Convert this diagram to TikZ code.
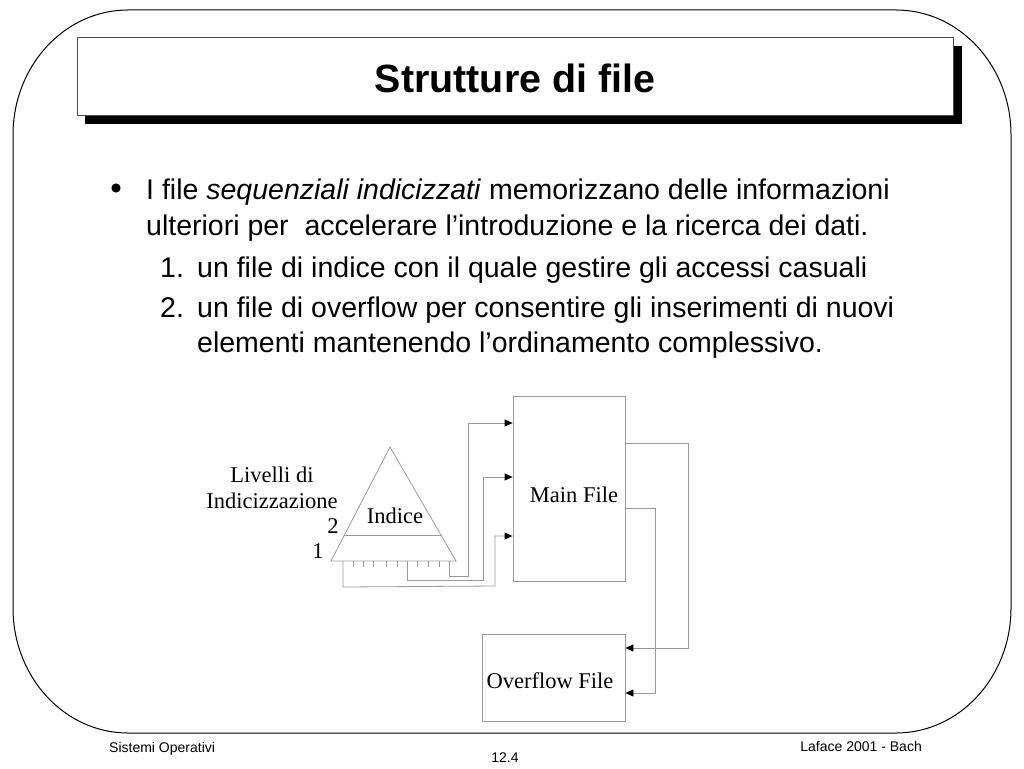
\documentclass[tikz,border=0pt]{standalone}
\usepackage{fontspec}
\setmainfont{Liberation Sans}
\newfontfamily\tnr{Liberation Serif}
\usetikzlibrary{arrows.meta,calc}
\tikzset{
  glink/.style={draw=black!40, line width=0.8pt},
  garrow/.style={glink, -{Triangle[length=8pt,width=7pt,color=black]}},
  gbox/.style={draw=black!40, line width=0.8pt, fill=white, inner sep=0pt},
  body/.style={anchor=base west, inner sep=0pt, font=\fontsize{28.5}{34}\selectfont},
  diag/.style={inner sep=0pt, font=\tnr\fontsize{22.5}{27}\selectfont},
  foot/.style={inner sep=0pt, font=\fontsize{14}{17}\selectfont},
}
\begin{document}
\begin{tikzpicture}[x=1pt,y=-1pt]
\useasboundingbox (0,0) rectangle (1024,768);
% frame
\draw[line width=1pt] (13,135) arc[start angle=180,end angle=270,x radius=115,y radius=125]
  -- (896,10) arc[start angle=270,end angle=360,x radius=115,y radius=125]
  -- (1011,608) arc[start angle=0,end angle=90,x radius=115,y radius=125]
  -- (128,733) arc[start angle=90,end angle=180,x radius=115,y radius=125] -- cycle;
% title box
\fill[black] (85,46) rectangle (962,124);
\draw[fill=white, line width=1pt, draw=black!70] (77,38) rectangle (953,115);
\node[inner sep=0pt, anchor=base, font=\bfseries\fontsize{39.4}{44}\selectfont] (title) at (515,92) {Strutture di file};
% bullet text
\fill (116,188) circle (4.6);
\node[body] (l1) at (146,199) {I file \textit{sequenziali indicizzati} memorizzano delle informazioni};
\node[body] (l2) at (146,235) {ulteriori per\ \ accelerare l’introduzione e la ricerca dei dati.};
\node[body] (n1) at (160,277) {1.};
\node[body] (l3) at (197,277) {un file di indice con il quale gestire gli accessi casuali};
\node[body] (n2) at (160,317) {2.};
\node[body] (l4) at (197,317) {un file di overflow per consentire gli inserimenti di nuovi};
\node[body] (l5) at (197,352) {elementi mantenendo l’ordinamento complessivo.};
% main file and overflow file
\node[gbox, minimum width=112pt, minimum height=185pt] (main) at (569,488.5) {};
\node[diag, anchor=base] (mainlbl) at (574,502) {Main File};
\node[gbox, minimum width=143pt, minimum height=87pt] (ovf) at (553.5,677.5) {};
\node[diag, anchor=base] (ovflbl) at (550,688) {Overflow File};
% triangle (index)
\coordinate (apex) at (390,447);
\coordinate (bl) at (331,561);
\coordinate (br) at (456,561);
\draw[glink] (bl) -- (apex) -- (br) -- cycle;
\draw[glink] ($(bl)!0.228!(apex)$) -- ($(br)!0.228!(apex)$);
\foreach \x in {353,363,373,386,397,417,428,439} \draw[glink] (\x,561) -- (\x,567);
\node[diag, anchor=base] (indice) at (395,523) {Indice};
\node[diag, anchor=base] (liv1) at (272,482) {Livelli di};
\node[diag, anchor=base] (liv2) at (272,508) {Indicizzazione};
\node[diag, anchor=base] (lev2) at (333,533) {2};
\node[diag, anchor=base] (lev1) at (318,558) {1};
% connectors index -> main
\coordinate (s1) at (449,561);
\coordinate (s2) at (407,561);
\coordinate (s3) at (343,561);
\draw[garrow] (s1) -- (449,576) -- (468,576) -- (468,423) -- (main.west |- 0,423);
\draw[garrow] (s2) -- (407,580) -- (483,580) -- (483,477) -- (main.west |- 0,477);
\draw[garrow] (s3) -- (343,587) -- (495,586) -- (495,536) -- (main.west |- 0,536);
% connectors main -> overflow
\draw[garrow] (main.east |- 0,443) -- (688,443) -- (688,648) -- (ovf.east |- 0,648);
\draw[garrow] (main.east |- 0,508) -- (655,508) -- (655,693) -- (ovf.east |- 0,693);
% footer
\node[foot, anchor=base west] (f1) at (109,752) {Sistemi Operativi};
\node[foot, anchor=base] (f2) at (505,762) {12.4};
\node[foot, anchor=base east] (f3) at (922,751) {Laface 2001 - Bach};
\end{tikzpicture}
\end{document}
